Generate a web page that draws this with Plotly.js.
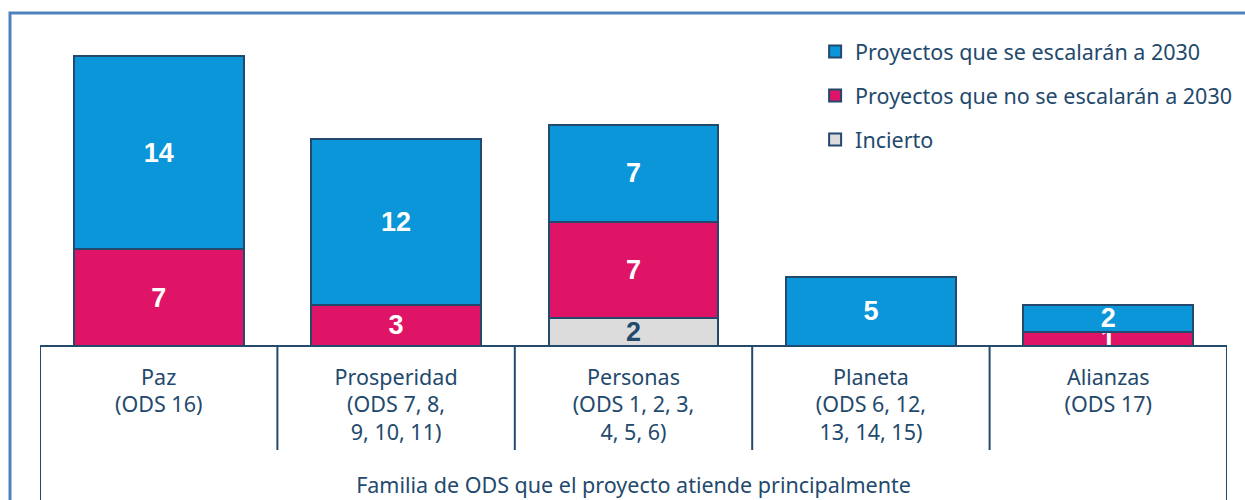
<!DOCTYPE html>
<html>
<head>
<meta charset="utf-8">
<script src="https://cdn.plot.ly/plotly-3.0.1.min.js"></script>
<style>html,body{margin:0;padding:0;background:#fff;}#chart{width:1245px;height:500px;}</style>
</head>
<body>
<div id="chart"></div>
<script>
const categories = ["Paz", "Prosperidad", "Personas", "Planeta", "Alianzas"];
const tickLabels = ["Paz<br>(ODS 16)", "Prosperidad<br>(ODS 7, 8,<br>9, 10, 11)", "Personas<br>(ODS 1, 2, 3,<br>4, 5, 6)", "Planeta<br>(ODS 6, 12,<br>13, 14, 15)", "Alianzas<br>(ODS 17)"];
const incierto = [0, 0, 2, 0, 0];
const noEscalaran = [7, 3, 7, 0, 1];
const escalaran = [14, 12, 7, 5, 2];
const seriesNames = ["Proyectos que se escalarán a 2030", "Proyectos que no se escalarán a 2030", "Incierto"];
const axisTitle = "Familia de ODS que el proyecto atiende principalmente";

const navy = "#23496d";
const xIdx = categories.map((c, i) => i);
function lbl(arr) { return arr.map(v => v > 0 ? String(v) : ""); }

function mk(name, vals, color, txtColor, group, rank) {
  return {
    type: "bar", name: name, x: xIdx, y: vals,
    text: lbl(vals), textposition: "inside", insidetextanchor: "middle",
    textangle: 0, constraintext: "none",
    textfont: {family: "Liberation Sans, Arial, sans-serif", size: 27, color: txtColor, weight: "bold"},
    marker: {color: color, line: {color: navy, width: 2}},
    legendgroup: group, legendrank: rank, hoverinfo: "skip", cliponaxis: false
  };
}

const data = [
  mk(seriesNames[2], incierto, "#dcdcdc", navy, "c", 3),
  mk(seriesNames[1], noEscalaran, "#e01466", "#ffffff", "b", 2),
  mk(seriesNames[0], escalaran, "#0a96d8", "#ffffff", "a", 1)
];

const H = 500, W = 1245;
const mL = 40, mR = 18, mT = 20, mB = 154;
const ph = H - mT - mB;
const pxPerUnit = 290 / 21;
const yMax = ph / pxPerUnit;
const py = y => (H - mB - y) / ph;
const pw = W - mL - mR;
const px = x => (x - mL) / pw;

const shapes = [
  {type: "rect", xref: "paper", yref: "paper", x0: px(10), x1: px(1260), y0: py(520), y1: py(13), line: {color: "#4f81bd", width: 3}, fillcolor: "rgba(0,0,0,0)", layer: "below"},
  {type: "line", xref: "x", yref: "paper", x0: -0.5, x1: 4.5, y0: 0, y1: 0, line: {color: navy, width: 2}}
];
[-0.5, 0.5, 1.5, 2.5, 3.5, 4.5].forEach((b, i) => {
  const outer = (i === 0 || i === 5);
  shapes.push({type: "line", xref: "x", yref: "paper", x0: b, x1: b, y0: 0, y1: outer ? py(510) : py(450), line: {color: navy, width: 2}});
});

const FS = 21.5;
const layout = {
  width: W, height: H,
  margin: {l: mL, r: mR, t: mT, b: mB, autoexpand: false},
  paper_bgcolor: "#ffffff", plot_bgcolor: "#ffffff",
  barmode: "stack", bargap: 0.284,
  font: {family: "Noto Sans, Open Sans, sans-serif", color: navy, size: FS},
  xaxis: {
    tickmode: "array", tickvals: xIdx, ticktext: tickLabels,
    range: [-0.5, 4.5], showgrid: false, zeroline: false, showline: false,
    ticks: "", ticklabelstandoff: 16, automargin: false,
    tickfont: {size: FS, color: navy, family: "Noto Sans, Open Sans, sans-serif"},
    title: {text: axisTitle, font: {size: FS, color: navy}, standoff: 32}
  },
  yaxis: {range: [0, yMax], visible: false, fixedrange: true},
  legend: {
    x: 0.653, y: 0.966, xanchor: "left", yanchor: "top",
    font: {size: FS, color: navy}, tracegroupgap: 13,
    traceorder: "grouped", itemwidth: 30, bgcolor: "rgba(0,0,0,0)"
  },
  shapes: shapes,
  showlegend: true
};

Plotly.newPlot("chart", data, layout, {displayModeBar: false, staticPlot: true});
</script>
</body>
</html>
